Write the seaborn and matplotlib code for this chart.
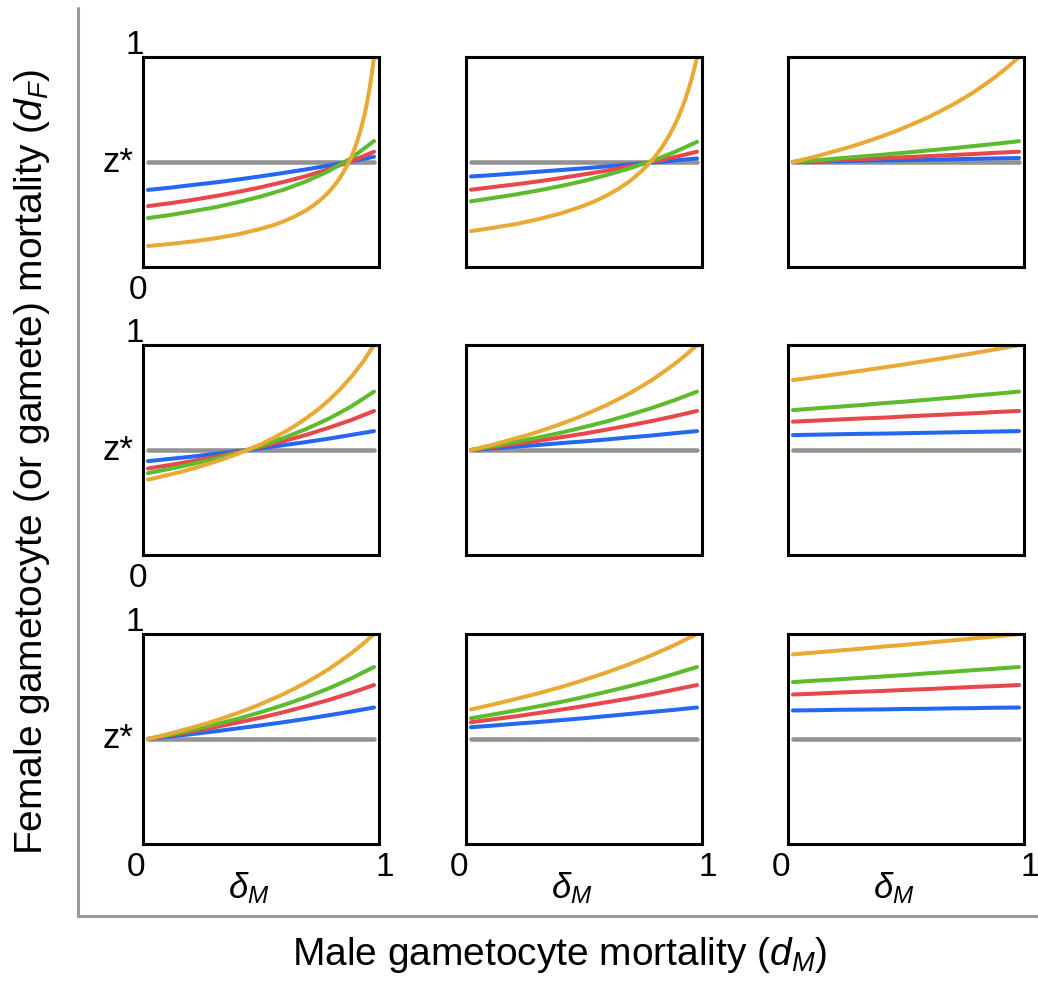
import matplotlib
matplotlib.use("Agg")
import matplotlib.pyplot as plt
from matplotlib.lines import Line2D
import seaborn as sns

# Male-mortality axis (delta_M) sample points; steeper curves are sampled more densely
DELTA_M = [0.0, 0.1, 0.2, 0.3, 0.4, 0.5, 0.6, 0.7, 0.8, 0.9, 1.0]
DELTA_M_HALF = [0.0, 0.05, 0.1, 0.15, 0.2, 0.25, 0.3, 0.35, 0.4, 0.45, 0.5,
                0.55, 0.6, 0.65, 0.7, 0.75, 0.8, 0.85, 0.9, 0.95, 1.0]
DELTA_M_FINE = [0.0, 0.1, 0.2, 0.3, 0.4, 0.5, 0.55, 0.6, 0.65, 0.7, 0.725, 0.75,
                0.775, 0.8, 0.82, 0.84, 0.86, 0.88, 0.9, 0.91, 0.92, 0.93, 0.94,
                0.95, 0.96, 0.97, 0.98, 0.99, 1.0]
GRIDS = {len(g): g for g in (DELTA_M, DELTA_M_HALF, DELTA_M_FINE)}

# Threshold z* (flat reference line in every panel)
ZSTAR_X = [0.0, 1.0]
ZSTAR_Y = [0.5, 0.5]

# Female mortality curves, indexed [row][col]
blue = [
    [[0.367, 0.378, 0.391, 0.403, 0.417, 0.432, 0.448, 0.465, 0.483, 0.503, 0.525],
     [0.431, 0.438, 0.446, 0.454, 0.462, 0.470, 0.479, 0.488, 0.497, 0.507, 0.517],
     [0.500, 0.502, 0.504, 0.506, 0.508, 0.509, 0.511, 0.513, 0.515, 0.517, 0.519]],
    [[0.447, 0.458, 0.469, 0.482, 0.495, 0.508, 0.523, 0.538, 0.554, 0.572, 0.590],
     [0.500, 0.508, 0.516, 0.524, 0.533, 0.541, 0.550, 0.560, 0.569, 0.580, 0.590],
     [0.571, 0.573, 0.575, 0.577, 0.578, 0.580, 0.582, 0.584, 0.586, 0.588, 0.590]],
    [[0.500, 0.512, 0.524, 0.537, 0.551, 0.565, 0.580, 0.596, 0.613, 0.631, 0.650],
     [0.556, 0.564, 0.573, 0.581, 0.590, 0.599, 0.609, 0.619, 0.629, 0.639, 0.650],
     [0.636, 0.637, 0.639, 0.640, 0.641, 0.643, 0.644, 0.646, 0.647, 0.649, 0.650]],
]

red = [
    [[0.290, 0.304, 0.320, 0.338, 0.358, 0.380, 0.405, 0.433, 0.466, 0.504, 0.549],
     [0.368, 0.381, 0.394, 0.408, 0.424, 0.441, 0.459, 0.479, 0.500, 0.523, 0.549],
     [0.500, 0.504, 0.509, 0.514, 0.518, 0.523, 0.528, 0.533, 0.538, 0.544, 0.549]],
    [[0.412, 0.429, 0.448, 0.468, 0.491, 0.515, 0.542, 0.572, 0.606, 0.643, 0.686],
     [0.500, 0.514, 0.529, 0.544, 0.561, 0.578, 0.597, 0.617, 0.638, 0.661, 0.686],
     [0.635, 0.640, 0.645, 0.650, 0.654, 0.660, 0.665, 0.670, 0.675, 0.681, 0.686]],
    [[0.500, 0.518, 0.536, 0.557, 0.579, 0.602, 0.628, 0.656, 0.686, 0.720, 0.757],
     [0.580, 0.594, 0.608, 0.624, 0.640, 0.657, 0.675, 0.693, 0.713, 0.735, 0.757],
     [0.712, 0.716, 0.721, 0.725, 0.729, 0.734, 0.738, 0.743, 0.748, 0.752, 0.757]],
]

green = [
    [[0.233, 0.248, 0.266, 0.285, 0.309, 0.336, 0.368, 0.408, 0.457, 0.519, 0.600],
     [0.313, 0.329, 0.346, 0.365, 0.386, 0.410, 0.438, 0.469, 0.505, 0.547, 0.596],
     [0.500, 0.508, 0.517, 0.526, 0.535, 0.545, 0.555, 0.565, 0.576, 0.587, 0.599]],
    [[0.390, 0.411, 0.434, 0.459, 0.488, 0.520, 0.557, 0.600, 0.649, 0.708, 0.778],
     [0.500, 0.519, 0.539, 0.560, 0.583, 0.609, 0.636, 0.667, 0.700, 0.737, 0.778],
     [0.690, 0.698, 0.706, 0.714, 0.723, 0.731, 0.740, 0.749, 0.759, 0.768, 0.778]],
    [[0.500, 0.521, 0.544, 0.570, 0.597, 0.628, 0.662, 0.699, 0.741, 0.789, 0.843],
     [0.599, 0.617, 0.636, 0.656, 0.677, 0.700, 0.725, 0.751, 0.779, 0.810, 0.843],
     [0.771, 0.778, 0.784, 0.791, 0.798, 0.805, 0.813, 0.820, 0.828, 0.835, 0.843]],
]

orange = [
    [[0.100, 0.110, 0.122, 0.137, 0.156, 0.182, 0.198, 0.217, 0.241, 0.270, 0.288,
      0.308, 0.331, 0.357, 0.382, 0.410, 0.443, 0.481, 0.526, 0.553, 0.581, 0.614,
      0.649, 0.690, 0.735, 0.787, 0.848, 0.917, 1.000],
     [0.171, 0.187, 0.205, 0.228, 0.256, 0.292, 0.314, 0.340, 0.371, 0.407, 0.429,
      0.452, 0.478, 0.508, 0.534, 0.563, 0.596, 0.632, 0.674, 0.696, 0.721, 0.747,
      0.775, 0.805, 0.838, 0.873, 0.912, 0.954, 1.000],
     [0.500, 0.513, 0.526, 0.541, 0.556, 0.571, 0.588, 0.606, 0.625, 0.645, 0.667,
      0.690, 0.714, 0.741, 0.769, 0.800, 0.833, 0.870, 0.909, 0.952, 1.000]],
    [[0.359, 0.371, 0.384, 0.397, 0.412, 0.428, 0.445, 0.463, 0.483, 0.505, 0.528,
      0.555, 0.583, 0.615, 0.651, 0.691, 0.737, 0.789, 0.849, 0.918, 1.000],
     [0.500, 0.513, 0.526, 0.541, 0.556, 0.571, 0.588, 0.606, 0.625, 0.645, 0.667,
      0.690, 0.714, 0.741, 0.769, 0.800, 0.833, 0.870, 0.909, 0.952, 1.000],
     [0.833, 0.847, 0.862, 0.877, 0.893, 0.909, 0.926, 0.943, 0.961, 0.980, 1.000]],
    [[0.500, 0.513, 0.526, 0.541, 0.556, 0.571, 0.588, 0.606, 0.625, 0.645, 0.667,
      0.690, 0.714, 0.741, 0.769, 0.800, 0.833, 0.870, 0.909, 0.952, 1.000],
     [0.641, 0.665, 0.691, 0.718, 0.748, 0.781, 0.817, 0.856, 0.899, 0.947, 1.000],
     [0.903, 0.912, 0.921, 0.930, 0.940, 0.949, 0.959, 0.969, 0.979, 0.989, 1.000]],
]

COLORS = {"blue": "#2468F2", "red": "#E8474C", "green": "#5DBB2D", "orange": "#E9A935"}
ZSTAR_COLOR = "#939393"

Y_LABEL = "Female gametocyte (or gamete) mortality ($d_F$)"
X_LABEL = "Male gametocyte mortality ($d_M$)"
PANEL_X_LABEL = r"$\delta_M$"
ZSTAR_LABEL = "z*"

sns.set_style("white")
plt.rcParams["font.family"] = ["Liberation Sans", "DejaVu Sans"]
plt.rcParams["text.color"] = "black"
plt.rcParams["mathtext.fontset"] = "custom"
plt.rcParams["mathtext.rm"] = "Liberation Sans"
plt.rcParams["mathtext.it"] = "Liberation Sans:italic"

W, H = 1038, 981
fig = plt.figure(figsize=(W / 100, H / 100), dpi=100)
fig.patch.set_facecolor("white")


def fx(px):
    return px / W


def fy(py):
    return 1 - py / H


COL_LEFT = [143, 466, 788]
ROW_TOP = [57, 345, 634]
PW, PH = 236, 210
NUM_SIZE = 24

for r in range(3):
    for c in range(3):
        L, T = COL_LEFT[c], ROW_TOP[r]
        ax = fig.add_axes([fx(L), fy(T + PH), PW / W, PH / H])
        sns.lineplot(x=ZSTAR_X, y=ZSTAR_Y, ax=ax, color=ZSTAR_COLOR, linewidth=3.3,
                     solid_capstyle="round", legend=False, sort=False, estimator=None)
        for name, series in (("blue", blue), ("red", red), ("green", green), ("orange", orange)):
            ys = series[r][c]
            xs = GRIDS[len(ys)]
            sns.lineplot(x=xs, y=ys, ax=ax, color=COLORS[name], linewidth=2.9,
                         solid_capstyle="round", legend=False, sort=False, estimator=None)
        ax.set_xlim(-0.022, 1.022)
        ax.set_ylim(0, 1)
        ax.set_xticks([])
        ax.set_yticks([])
        ax.set_xlabel("")
        ax.set_ylabel("")
        for sp in ax.spines.values():
            sp.set_visible(True)
            sp.set_color("black")
            sp.set_linewidth(2.2)

        B, R = T + PH, L + PW
        if c == 0:
            fig.text(fx(L + 1), fy(T - 3), "1", ha="right", va="baseline", fontsize=NUM_SIZE)
            fig.text(fx(L - 10), fy(T + PH / 2), ZSTAR_LABEL, ha="right", va="center",
                     fontsize=25)
            if r < 2:
                fig.text(fx(L - 5), fy(B + 32), "0", ha="center", va="baseline",
                         fontsize=NUM_SIZE)
        if r == 2:
            fig.text(fx(L - 7), fy(B + 32), "0", ha="center", va="baseline", fontsize=NUM_SIZE)
            fig.text(fx(R + 6), fy(B + 32), "1", ha="center", va="baseline", fontsize=NUM_SIZE)
            fig.text(fx(L + 106), fy(B + 54), PANEL_X_LABEL, ha="center", va="baseline",
                     fontsize=25)

# Outer L-shaped frame
frame_kw = dict(color="#9A9A9A", linewidth=2.2, transform=fig.transFigure)
fig.add_artist(Line2D([fx(78), fx(78)], [fy(8), fy(916)], **frame_kw))
fig.add_artist(Line2D([fx(78), fx(W)], [fy(916), fy(916)], **frame_kw))

fig.text(fx(32), fy(462), Y_LABEL, rotation=90, ha="center", va="center", fontsize=28)
fig.text(fx(560), fy(955), X_LABEL, ha="center", va="center", fontsize=28)

fig.savefig("out.png", dpi=100, facecolor="white")
